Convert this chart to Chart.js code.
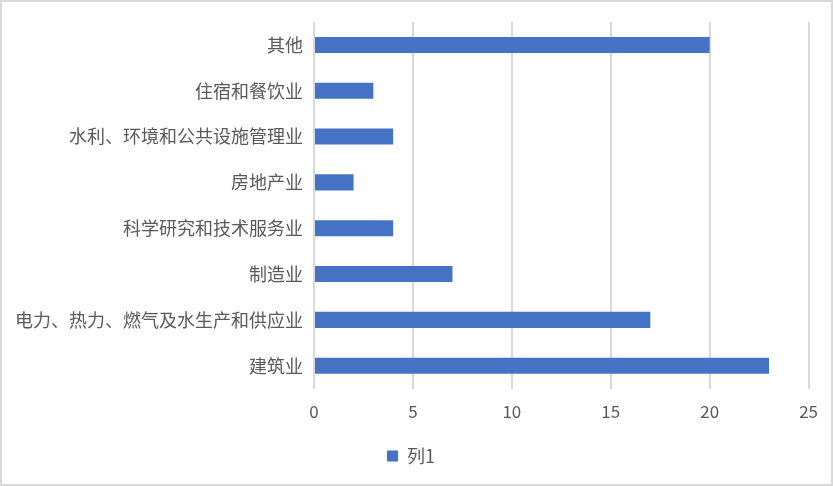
<!DOCTYPE html>
<html>
<head>
<meta charset="utf-8">
<script src="https://cdn.jsdelivr.net/npm/chart.js@4/dist/chart.umd.min.js"></script>
<style>
  html, body { margin: 0; padding: 0; background: #fff; }
  #wrap {
    width: 833px; height: 486px; box-sizing: border-box;
    border: 2px solid #d9d9d9; position: relative;
  }
</style>
</head>
<body>
<div id="wrap"><canvas id="chart"></canvas></div>
<script>
/* ─── Data ─── */
const categories = [
  "其他",
  "住宿和餐饮业",
  "水利、环境和公共设施管理业",
  "房地产业",
  "科学研究和技术服务业",
  "制造业",
  "电力、热力、燃气及水生产和供应业",
  "建筑业"
];
const series1 = [20, 3, 4, 2, 4, 7, 17, 23];
const seriesName = "列1";
const xTicks = [0, 5, 10, 15, 20, 25];

const FONT = "'Noto Sans CJK SC', 'Noto Sans', sans-serif";
const TEXT = "#595959";

new Chart(document.getElementById("chart"), {
  type: "bar",
  data: {
    labels: categories,
    datasets: [{
      label: seriesName,
      data: series1,
      backgroundColor: "#4472C4",
      borderWidth: 0,
      categoryPercentage: 1,
      barPercentage: 0.35
    }]
  },
  options: {
    indexAxis: "y",
    responsive: true,
    maintainAspectRatio: false,
    animation: false,
    layout: { padding: { top: 20, right: 21, left: 10, bottom: 9 } },
    plugins: {
      tooltip: { enabled: false },
      legend: {
        position: "bottom",
        labels: {
          boxWidth: 11, boxHeight: 11, padding: 12,
          color: TEXT, font: { family: FONT, size: 18 }
        }
      }
    },
    scales: {
      x: {
        min: xTicks[0],
        max: xTicks[xTicks.length - 1],
        afterBuildTicks: axis => { axis.ticks = xTicks.map(v => ({ value: v })); },
        grid: { color: "#d9d9d9", lineWidth: 2, drawTicks: false },
        border: { display: false },
        ticks: { color: TEXT, padding: 13, font: { family: FONT, size: 17 } }
      },
      y: {
        grid: { display: false },
        border: { display: false },
        ticks: { color: TEXT, padding: 3, font: { family: FONT, size: 18 } }
      }
    }
  }
});
</script>
</body>
</html>
